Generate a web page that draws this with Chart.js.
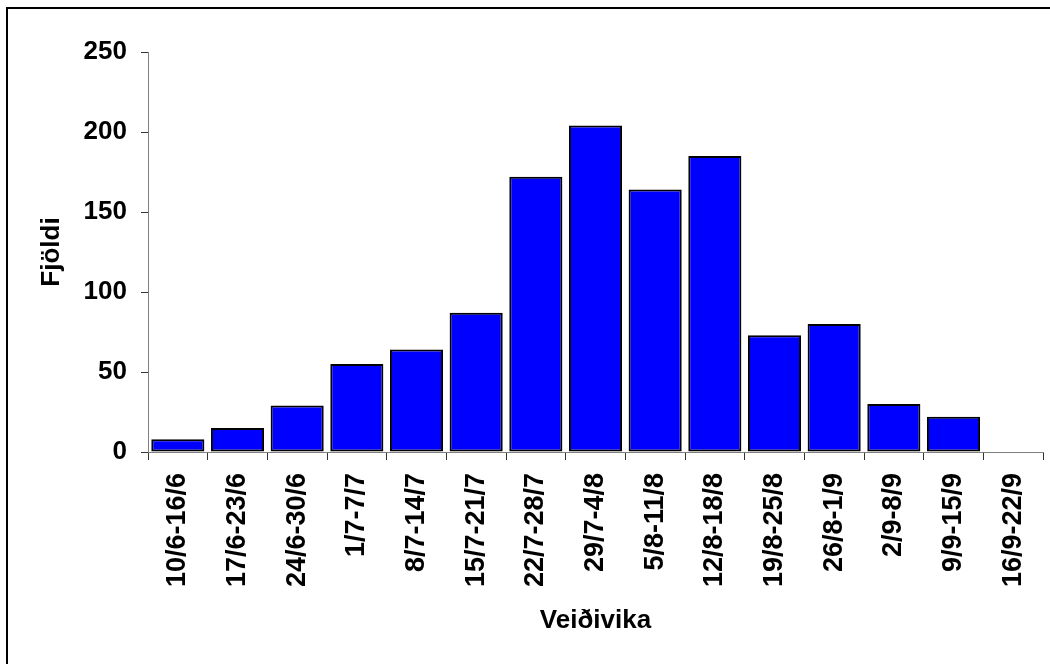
<!DOCTYPE html>
<html>
<head>
<meta charset="utf-8">
<script src="https://cdn.jsdelivr.net/npm/chart.js@4.4.1/dist/chart.umd.min.js"></script>
<style>
	body { margin: 0; overflow: hidden; background: #fff; }
	#frame {
		position: absolute; left: 6px; top: 7px; width: 1200px; height: 800px;
		border-left: 2px solid #000; border-top: 2px solid #000;
	}
	#chartDisplay { position: absolute; left: 0; top: 0; }
</style>
</head>
<body>
<div id="frame"></div>
<canvas id="chartDisplay" width="1050" height="664"></canvas>
<script>
// Weekly catch counts
var weeks = ["10/6-16/6", "17/6-23/6", "24/6-30/6", "1/7-7/7", "8/7-14/7", "15/7-21/7", "22/7-28/7",
	"29/7-4/8", "5/8-11/8", "12/8-18/8", "19/8-25/8", "26/8-1/9", "2/9-8/9", "9/9-15/9", "16/9-22/9"];
var counts = [8, 15, 29, 55, 64, 87, 172, 204, 164, 185, 73, 80, 30, 22, 0];
var yTicks = [0, 50, 100, 150, 200, 250];

const fontFamily = "'Liberation Sans', Arial, sans-serif";

/**
 * Build the bar chart
 */
function createChart() {
	const ctx = document.getElementById("chartDisplay");

	new Chart(ctx, {
		type: "bar",
		data: {
			labels: weeks,
			datasets: [{
				label: "Fjöldi",
				data: counts,
				backgroundColor: "#0000FF",
				borderColor: "#000000",
				borderWidth: 2,
				borderSkipped: false,
				barPercentage: 0.89,
				categoryPercentage: 1.0
			}]
		},
		options: {
			responsive: false,
			animation: false,
			layout: {
				padding: { left: 0, top: 52, right: 7, bottom: 0 }
			},
			plugins: {
				legend: { display: false },
				tooltip: { enabled: false }
			},
			scales: {
				x: {
					grid: {
						drawOnChartArea: false,
						offset: true,
						tickLength: 8,
						tickColor: "#333"
					},
					border: { color: "#808080", width: 1 },
					ticks: {
						maxRotation: 90,
						minRotation: 90,
						padding: 13,
						color: "#000",
						font: { family: fontFamily, size: 27, weight: "bold" }
					},
					title: {
						display: true,
						text: "Veiðivika",
						color: "#000",
						padding: { top: 0, bottom: 28 },
						font: { family: fontFamily, size: 26, weight: "bold" }
					},
					afterFit: function(scale) {
						scale.height = 212;
						// keep the plot running to the right edge like the original
						scale.paddingLeft = 0;
						scale.paddingRight = 0;
					}
				},
				y: {
					min: 0,
					max: 250,
					grid: {
						drawOnChartArea: false,
						tickLength: 7,
						tickColor: "#333"
					},
					border: { color: "#808080", width: 1 },
					afterBuildTicks: function(scale) {
						scale.ticks = yTicks.map(v => ({ value: v }));
					},
					ticks: {
						padding: 14,
						color: "#000",
						font: { family: fontFamily, size: 26, weight: "bold" }
					},
					title: {
						display: true,
						text: "Fjöldi",
						color: "#000",
						padding: { top: 36, bottom: 0 },
						font: { family: fontFamily, size: 26, weight: "bold" }
					},
					afterFit: function(scale) {
						scale.width = 148;
					}
				}
			}
		}
	});
}

createChart();
</script>
</body>
</html>
